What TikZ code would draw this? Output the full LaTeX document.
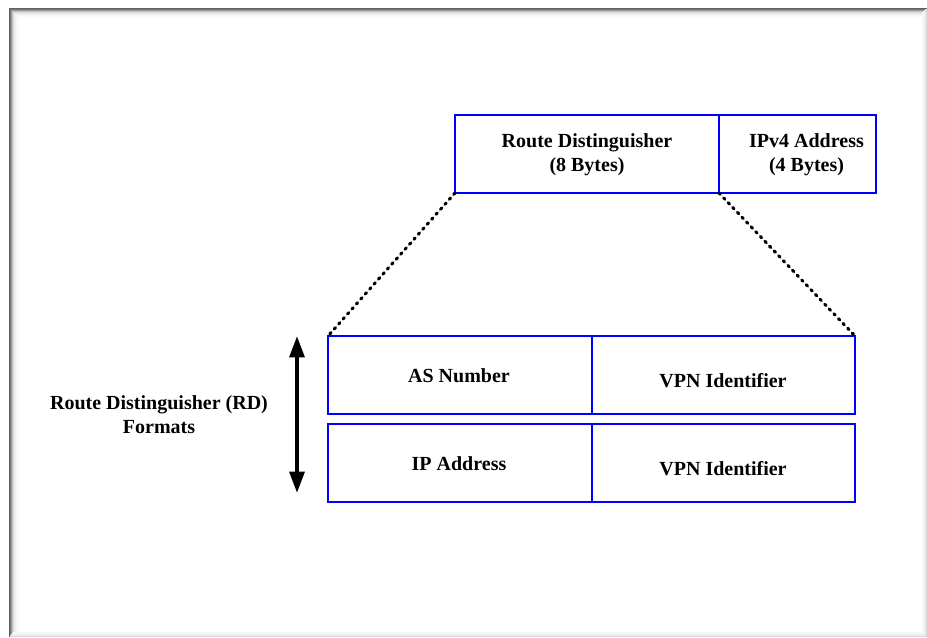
\documentclass[tikz,border=0pt]{standalone}
\usepackage{fontspec}
\setmainfont{Liberation Serif}
\usetikzlibrary{arrows.meta}

\tikzset{every picture/.style={line width=0.75pt}}
\tikzset{
  field/.style={draw=blue, line width=1.1pt, inner sep=0pt, outer sep=0pt, minimum height=58.5pt},
  fieldtext/.style={font=\fontsize{15}{18}\selectfont\bfseries, align=center, inner sep=0pt},
  zoomline/.style={line width=2.3pt, dash pattern=on 1.4pt off 3.6pt, line cap=round}
}

\begin{document}
\begin{tikzpicture}[x=0.75pt,y=0.75pt,yscale=-1,xscale=1]
\path[use as bounding box] (0,0) rectangle (927,637);

%Frame with shadow
\foreach \i/\c in {0/62,1/55,2/38,3/24,4/15,5/9,6/6,7/4,8/2} {
  \draw [line width=0.8pt, black!\c] (10+\i,637) -- (10+\i,9+\i) -- (927,9+\i) ;
}
\foreach \i/\c in {0/14,1/9,2/6,3/3} {
  \draw [line width=0.8pt, black!\c] (926-\i,9+\i) -- (926-\i,636-\i) -- (10+\i,636-\i) ;
}

%Packet fields
\node [field, minimum width=198pt] (rd) at (587,154) {};
\node [field, minimum width=117.75pt] (ipv4) at (797.5,154) {};

%RD formats
\node [field, minimum width=198pt] (asn) at (460,375) {};
\node [field, minimum width=197.25pt] (vpnA) at (723.5,375) {};
\node [field, minimum width=198pt] (ipa) at (460,463) {};
\node [field, minimum width=197.25pt] (vpnB) at (723.5,463) {};

%Dotted zoom lines
\draw [zoomline] (rd.south west) -- (asn.north west) ;
\draw [zoomline] (rd.south east) -- (vpnA.north east) ;

%Double arrow
\coordinate (top) at (297,336) ;
\coordinate (bottom) at (297,493) ;
\draw [line width=3pt, {Triangle[length=16pt,width=11pt]}-{Triangle[length=16pt,width=11pt]}] (top) -- (bottom) ;

% Text Node
\node [fieldtext] (rdtext) at (587,155) {Route Distinguisher\\(8 Bytes)};
% Text Node
\node [fieldtext] (ipv4text) at (806.5,155) {IPv4 Address\\(4 Bytes)};
% Text Node
\node [fieldtext] (asntext) at (459,376) {AS Number};
% Text Node
\node [fieldtext] (vpnAtext) at (723,381) {VPN Identifier};
% Text Node
\node [fieldtext] (ipatext) at (459,464) {IP Address};
% Text Node
\node [fieldtext] (vpnBtext) at (723,469) {VPN Identifier};
% Text Node
\node [fieldtext] (rdformats) at (159,415) {Route Distinguisher (RD)\\Formats};

\end{tikzpicture}
\end{document}
